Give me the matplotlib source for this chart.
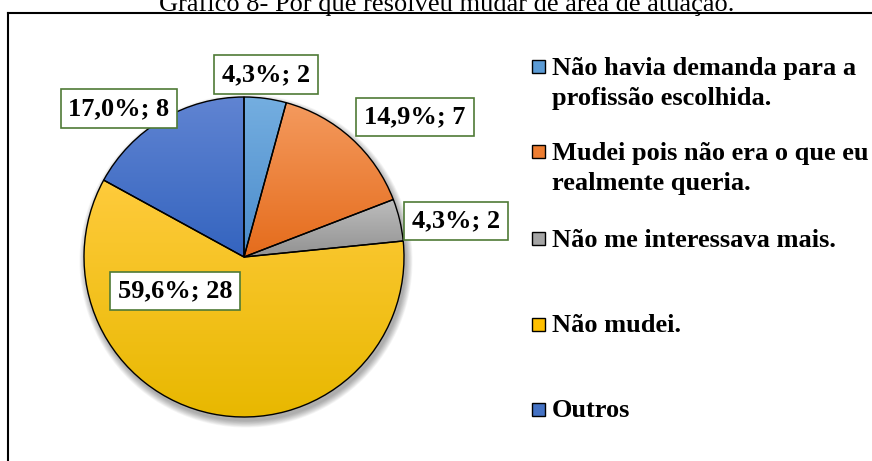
import numpy as np
import matplotlib
matplotlib.use("Agg")
import matplotlib.pyplot as plt
from matplotlib.patches import Circle, Rectangle
from matplotlib.lines import Line2D

# ---------------- data ----------------
title = "Gráfico 8- Por que resolveu mudar de área de atuação."
categories = [
    "Não havia demanda para a\nprofissão escolhida.",
    "Mudei pois não era o que eu\nrealmente queria.",
    "Não me interessava mais.",
    "Não mudei.",
    "Outros",
]
counts = [2, 7, 2, 28, 8]

# ---------------- styles / layout ----------------
base_colors = ["#5B9BD5", "#ED7D31", "#A5A5A5", "#FFC000", "#4472C4"]
top_colors = ["#74AEE0", "#F49A5E", "#BDBDBD", "#FFCB3C", "#6084D2"]
bot_colors = ["#4B8BCB", "#E56C1C", "#929292", "#E8B800", "#3464BF"]
label_pos_px = [(266, 74.5), (415, 117), (456, 221), (175, 291), (119, 108.5)]
legend_baselines_px = [75, 160, 247, 332, 417]

W, H = 872, 461
fig = plt.figure(figsize=(W / 100, H / 100), dpi=100)
ax = fig.add_axes([0, 0, 1, 1])
ax.set_xlim(0, W)
ax.set_ylim(0, H)
ax.axis("off")

serif = ["Liberation Serif", "DejaVu Serif"]

cx, cy, r = 244, H - 257, 160

# soft shadow
for i in range(10):
    ax.add_patch(Circle((cx + 2, cy - 4), r + 0.3 + i * 0.7, facecolor="black",
                        edgecolor="none", alpha=0.035, zorder=1))

wedges, _ = ax.pie(counts, startangle=90, counterclock=False, radius=r,
                   center=(cx, cy), colors=base_colors,
                   wedgeprops=dict(edgecolor="black", linewidth=1.0),
                   frame=True)
ax.set_xlim(0, W)
ax.set_ylim(0, H)
ax.set_aspect("auto")
ax.axis("off")

for w, tc, bc in zip(wedges, top_colors, bot_colors):
    w.set_zorder(3)
    ext = w.get_path().get_extents()
    n = 256
    c1 = np.array(matplotlib.colors.to_rgb(tc))
    c2 = np.array(matplotlib.colors.to_rgb(bc))
    t = np.linspace(0, 1, n)[:, None]
    grad = (c1 * (1 - t) + c2 * t)[:, None, :]
    im = ax.imshow(grad, extent=[ext.x0, ext.x1, ext.y0, ext.y1], origin="upper",
                   aspect="auto", interpolation="bilinear", zorder=2)
    im.set_clip_path(w)
    w.set_facecolor("none")

ax.set_xlim(0, W)
ax.set_ylim(0, H)
ax.set_aspect("auto")

# data labels
total = sum(counts)
for v, (px, py) in zip(counts, label_pos_px):
    pct = f"{100 * v / total:.1f}".replace(".", ",")
    ax.text(px, H - py, f"{pct}%; {v}", ha="center", va="center",
            fontsize=19, fontweight="bold", family=serif, zorder=5,
            bbox=dict(boxstyle="square,pad=0.3", facecolor="white",
                      edgecolor="#4F7A36", linewidth=1.2))

# legend (manual)
for cat, col, bl in zip(categories, base_colors, legend_baselines_px):
    ax.add_patch(Rectangle((532, H - bl + 1.5), 13, 13, facecolor=col,
                           edgecolor="black", linewidth=1.0, zorder=5))
    for k, line in enumerate(cat.split("\n")):
        ax.text(552, H - bl - 30 * k, line, ha="left", va="baseline",
                fontsize=19, fontweight="bold", family=serif, zorder=5)

# title (partly cropped at top)
ax.text(447, H - 11, title, ha="center", va="baseline", fontsize=19,
        family=serif, zorder=5)

# chart frame
ax.add_line(Line2D([7.5, 7.5], [-5, H - 13.5], color="black", linewidth=1.5,
                   zorder=6, clip_on=False))
ax.add_line(Line2D([7.5, W + 5], [H - 13.5, H - 13.5], color="black",
                   linewidth=1.5, zorder=6, clip_on=False))

fig.savefig("out.png", dpi=100)
